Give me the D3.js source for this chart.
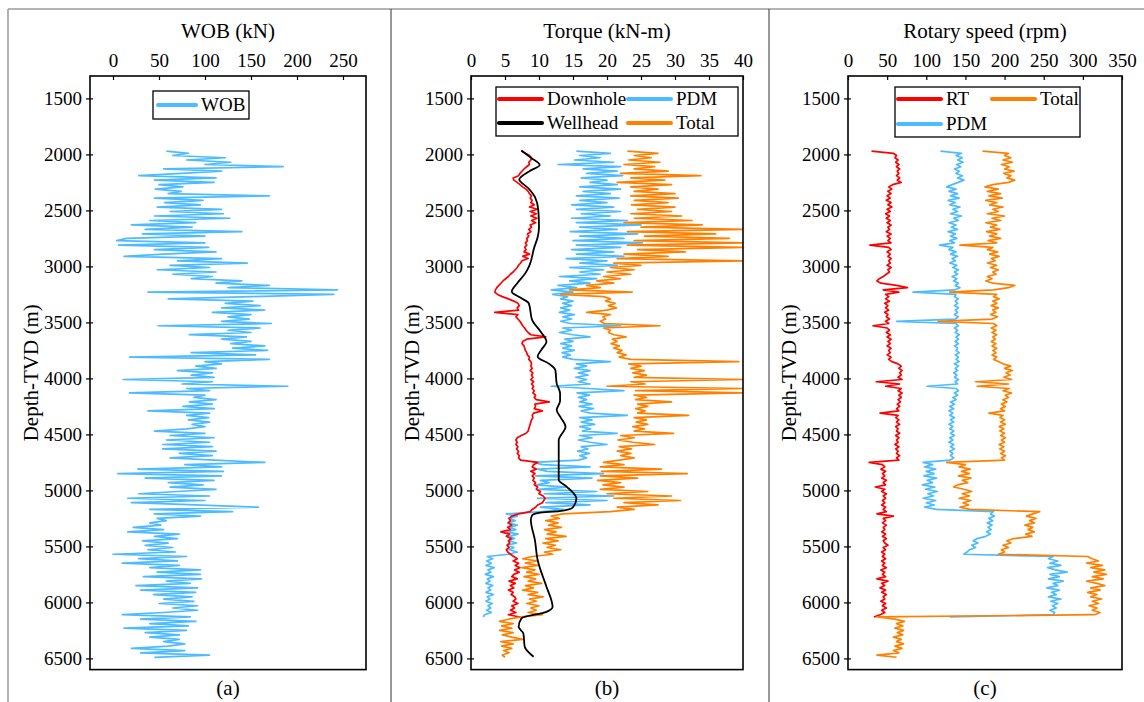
<!DOCTYPE html>
<html>
<head>
<meta charset="utf-8">
<script src="https://cdn.jsdelivr.net/npm/d3@7"></script>
<style>
  body { margin: 0; background: #fff; }
  svg text { font-family: "Liberation Serif", "Times New Roman", serif; fill: #000; }
</style>
</head>
<body>
<div id="chart"></div>
<script>
// sample depths (m, TVD), every 20 m from 1970 to 6490
const depth = d3.range(1970, 6491, 20);

// (a) weight on bit, kN — one row per 100 m
const wob = [
  58, 82, 65, 122, 80,      // 1970
  128, 100, 185, 55, 118,   // 2070
  75, 28, 112, 45, 110,     // 2170
  50, 76, 46, 74, 60,       // 2270
  170, 45, 98, 56, 95,      // 2370
  48, 118, 62, 120, 45,     // 2470
  127, 40, 90, 20, 86,      // 2570
  35, 140, 32, 100, 15,     // 2670
  4, 100, 6, 104, 45,       // 2770
  112, 55, 12, 118, 70,     // 2870
  146, 62, 105, 48, 112,    // 2970
  65, 108, 85, 140, 112,    // 3070
  170, 125, 244, 38, 240,   // 3170
  150, 60, 152, 122, 160,   // 3270
  118, 165, 108, 150, 125,  // 3370
  148, 118, 172, 49, 160,   // 3470
  125, 150, 83, 145, 118,   // 3570
  150, 128, 165, 130, 168,  // 3670
  85, 155, 18, 170, 100,    // 3770
  118, 90, 112, 70, 108,    // 3870
  85, 110, 11, 108, 75,     // 3970
  190, 80, 105, 18, 100,    // 4070
  88, 112, 83, 108, 76,     // 4170
  110, 38, 105, 80, 104,    // 4270
  82, 105, 86, 100, 80,     // 4370
  45, 100, 62, 110, 58,     // 4470
  105, 54, 108, 54, 112,    // 4570
  72, 108, 62, 110, 165,    // 4670
  78, 118, 27, 120, 5,      // 4770
  118, 35, 110, 60, 98,     // 4870
  62, 112, 70, 28, 105,     // 4970
  16, 100, 20, 90, 158,     // 5070
  40, 130, 45, 95, 48,      // 5170
  58, 40, 52, 22, 55,       // 5270
  16, 72, 45, 70, 32,       // 5370
  60, 35, 65, 38, 68,       // 5470
  0, 80, 28, 70, 10,        // 5570
  72, 40, 95, 48, 95,       // 5670
  33, 96, 58, 84, 25,       // 5770
  92, 30, 90, 44, 86,       // 5870
  55, 88, 50, 92, 65,       // 5970
  92, 55, 10, 84, 30,       // 6070
  90, 40, 82, 12, 80,       // 6170
  35, 72, 40, 72, 55,       // 6270
  78, 60, 20, 78, 30,       // 6370
  105, 45                   // 6470
];

// (b) torque, kN-m
const torqueDownhole = [
  7.4, 8.0, 8.6, 8.9, 8.8,    // 1970
  8.5, 8.6, 8.2, 7.8, 7.5,    // 2070
  7.2, 7.0, 6.2, 6.3, 6.8,    // 2170
  7.2, 7.6, 8.1, 8.4, 8.6,    // 2270
  8.9, 8.7, 9.0, 8.8, 9.3,    // 2370
  8.6, 9.8, 8.7, 9.6, 8.8,    // 2470
  9.7, 8.9, 9.5, 8.7, 8.9,    // 2570
  8.5, 8.8, 8.3, 8.5, 8.2,    // 2670
  8.3, 8.0, 8.2, 7.9, 8.1,    // 2770
  7.8, 8.6, 7.6, 8.4, 7.5,    // 2870
  7.3, 7.0, 6.8, 6.5, 6.2,    // 2970
  5.8, 5.5, 5.1, 4.7, 4.4,    // 3070
  4.1, 3.8, 3.6, 3.5, 3.9,    // 3170
  4.6, 5.5, 6.3, 6.9, 7.1,    // 3270
  6.8, 7.0, 3.5, 6.9, 6.6,    // 3370
  6.9, 7.2, 7.4, 7.6, 7.9,    // 3470
  8.1, 8.4, 8.8, 11.0, 8.2,   // 3570
  7.6, 7.5, 7.8, 7.9, 8.0,    // 3670
  8.2, 8.3, 8.6, 8.5, 8.8,    // 3770
  8.9, 8.8, 9.0, 8.7, 9.1,    // 3870
  8.9, 9.1, 8.8, 9.2, 8.9,    // 3970
  9.2, 9.0, 9.3, 9.1, 9.5,    // 4070
  9.3, 9.6, 11.5, 9.4, 9.5,   // 4170
  9.3, 10.5, 9.2, 9.0, 9.1,   // 4270
  8.9, 8.8, 8.7, 8.6, 8.5,    // 4370
  8.4, 8.1, 7.4, 6.8, 6.6,    // 4470
  6.8, 6.6, 6.9, 6.7, 7.0,    // 4570
  6.8, 7.1, 7.0, 7.3, 9.8,    // 4670
  9.2, 9.0, 9.6, 8.8, 9.4,    // 4770
  9.0, 9.3, 9.1, 9.5, 9.3,    // 4870
  9.8, 9.6, 10.2, 10.0, 10.6, // 4970
  10.9, 10.7, 10.5, 9.8, 9.5, // 5070
  9.0, 8.7, 7.0, 6.0, 5.6,    // 5170
  5.8, 5.5, 6.0, 5.4, 5.8,    // 5270
  4.4, 5.7, 5.2, 5.9, 5.5,    // 5370
  5.7, 5.3, 5.6, 5.2, 5.4,    // 5470
  5.8, 6.3, 6.8, 6.2, 7.0,    // 5570
  6.5, 7.2, 6.4, 7.1, 6.3,    // 5670
  6.0, 6.8, 5.6, 6.5, 5.8,    // 5770
  6.3, 5.5, 6.2, 5.9, 6.4,    // 5870
  6.6, 6.2, 6.9, 6.0, 6.4,    // 5970
  5.8, 6.6, 5.5, 7.2          // 6070
];

const torquePdm = [
  15.5, 20.5, 16.0, 19.0, 15.2,  // 1970
  21.0, 12.8, 22.0, 16.5, 21.5,  // 2070
  17.0, 22.3, 16.2, 20.0, 17.5,  // 2170
  21.5, 16.0, 22.0, 16.5, 20.5,  // 2270
  15.5, 21.8, 16.0, 20.0, 14.8,  // 2370
  21.0, 15.5, 22.0, 16.2, 20.5,  // 2470
  14.8, 23.0, 15.5, 25.0, 16.0,  // 2570
  21.5, 14.6, 24.5, 16.0, 22.5,  // 2670
  15.0, 25.2, 15.5, 22.0, 14.8,  // 2770
  21.0, 15.5, 22.5, 14.0, 20.0,  // 2870
  16.0, 21.5, 14.5, 19.5, 16.0,  // 2970
  19.0, 13.0, 18.5, 14.5, 17.5,  // 3070
  12.8, 15.5, 11.8, 15.0, 12.0,  // 3170
  14.2, 13.2, 15.0, 13.5, 14.8,  // 3270
  13.2, 14.5, 13.0, 15.2, 13.5,  // 3370
  14.8, 13.2, 14.6, 22.0, 13.5,  // 3470
  14.8, 13.0, 15.0, 17.5, 13.8,  // 3570
  15.0, 13.2, 14.8, 13.5, 15.2,  // 3670
  13.4, 14.6, 13.5, 15.0, 20.5,  // 3770
  15.5, 17.0, 15.2, 17.5, 15.8,  // 3870
  17.2, 15.4, 17.0, 15.8, 17.5,  // 3970
  11.8, 17.2, 22.5, 15.6, 17.4,  // 4070
  15.8, 17.0, 16.0, 17.8, 15.9,  // 4170
  18.0, 16.2, 17.5, 23.0, 16.0,  // 4270
  17.8, 16.2, 18.2, 16.0, 17.6,  // 4370
  16.4, 21.5, 16.0, 17.8, 15.8,  // 4470
  17.5, 20.0, 16.2, 17.2, 15.7,  // 4570
  17.4, 16.0, 17.0, 15.8, 9.2,   // 4670
  10.5, 17.5, 9.8, 11.2, 19.5,   // 4770
  9.5, 17.8, 10.2, 11.5, 9.6,    // 4870
  14.0, 10.0, 18.5, 10.8, 21.0,  // 4970
  9.8, 20.0, 11.0, 17.5, 10.2,   // 5070
  13.5, 10.5, 5.2, 6.8, 5.5,     // 5170
  6.5, 5.4, 6.8, 5.6, 6.6,       // 5270
  5.3, 6.9, 5.6, 6.4, 5.5,       // 5370
  6.7, 5.4, 6.3, 5.6, 6.8,       // 5470
  5.5, 2.4, 3.2, 2.3, 3.0,       // 5570
  2.2, 3.4, 2.5, 2.9, 2.1,       // 5670
  3.3, 2.4, 2.8, 2.2, 3.2,       // 5770
  2.5, 2.9, 2.2, 3.3, 2.4,       // 5870
  2.8, 2.2, 3.1, 2.5, 2.9,       // 5970
  2.3, 3.0, 2.0, 1.8             // 6070
];

const torqueTotal = [
  23.0, 27.5, 24.0, 26.5, 23.2,  // 1970
  27.8, 22.5, 27.0, 24.0, 29.0,  // 2070
  22.0, 33.8, 23.5, 28.5, 21.5,  // 2170
  29.5, 23.5, 27.5, 24.0, 30.0,  // 2270
  23.5, 30.5, 24.0, 29.0, 23.6,  // 2370
  30.0, 24.5, 29.5, 23.5, 31.0,  // 2470
  24.0, 32.5, 22.5, 34.0, 25.0,  // 2570
  40.0, 23.0, 36.0, 25.5, 38.0,  // 2670
  24.0, 40.0, 23.0, 40.0, 24.5,  // 2770
  31.5, 22.5, 29.0, 21.5, 40.0,  // 2870
  21.0, 25.0, 20.5, 24.0, 20.0,  // 2970
  23.5, 19.5, 22.0, 18.5, 21.0,  // 3070
  17.0, 19.0, 14.5, 23.7, 13.2,  // 3170
  19.5, 20.5, 19.8, 21.2, 20.2,  // 3270
  21.4, 20.0, 17.0, 20.5, 19.4,  // 3370
  19.8, 19.0, 19.6, 27.8, 19.5,  // 3470
  20.5, 20.2, 21.0, 22.8, 20.8,  // 3570
  21.5, 20.6, 21.8, 21.0, 22.2,  // 3670
  21.5, 22.8, 21.8, 23.5, 39.4,  // 3770
  23.2, 25.0, 23.5, 25.5, 23.8,  // 3870
  25.8, 24.0, 40.0, 23.5, 25.6,  // 3970
  20.0, 40.0, 24.2, 40.0, 24.0,  // 4070
  25.8, 24.2, 29.5, 24.5, 26.0,  // 4170
  24.2, 25.6, 24.5, 32.0, 24.0,  // 4270
  25.8, 24.3, 26.0, 23.8, 25.5,  // 4370
  24.0, 29.8, 22.0, 24.0, 21.6,  // 4470
  23.8, 27.0, 21.8, 23.6, 21.5,  // 4570
  23.5, 22.0, 24.0, 21.8, 19.5,  // 4670
  22.5, 19.0, 28.0, 19.2, 31.8,  // 4770
  19.0, 24.5, 18.6, 22.0, 19.4,  // 4870
  22.5, 19.0, 26.0, 20.0, 29.5,  // 4970
  21.0, 30.8, 22.5, 27.5, 21.5,  // 5070
  24.0, 20.5, 13.5, 11.8, 13.0,  // 5170
  11.0, 12.8, 11.4, 13.3, 10.8,  // 5270
  12.5, 11.2, 14.0, 11.0, 12.8,  // 5370
  10.6, 12.4, 11.2, 13.2, 10.8,  // 5470
  12.0, 9.0, 7.6, 9.6, 8.0,      // 5570
  9.8, 7.5, 9.4, 8.2, 10.0,      // 5670
  7.8, 9.5, 8.4, 10.4, 8.0,      // 5770
  9.2, 7.6, 9.8, 8.4, 10.6,      // 5870
  8.6, 9.6, 8.2, 10.0, 8.8,      // 5970
  9.6, 8.4, 10.5, 7.4, 5.5,      // 6070
  4.2, 6.2, 4.5, 6.0, 4.2,       // 6170
  6.2, 4.6, 6.0, 7.6, 4.4,       // 6270
  6.2, 4.5, 6.0, 4.8, 5.6,       // 6370
  4.6, 5.0                       // 6470
];

// wellhead torque is a smooth curve, read at its turning points
const wellheadDepth = [1965, 2030, 2095, 2150, 2225, 2300, 2380, 2500, 2650, 2740, 2830, 2990, 3060, 3150,
  3226, 3280, 3330, 3480, 3580, 3673, 3740, 3806, 3870, 3925, 4044, 4133, 4200, 4283, 4350, 4432, 4551,
  4729, 4908, 4968, 5072, 5150, 5185, 5200, 5221, 5265, 5444, 5622, 5860, 6000, 6039, 6084, 6143, 6218,
  6277, 6396, 6485];
const wellheadTorque = [7.4, 8.8, 10.1, 8.6, 7.1, 8.4, 9.4, 9.9, 10.0, 9.8, 9.3, 8.6, 8.0, 6.8,
  6.0, 7.3, 8.5, 9.0, 10.2, 11.1, 10.4, 9.8, 11.5, 12.4, 12.6, 13.1, 13.1, 12.6, 13.2, 13.9, 12.9,
  12.9, 12.9, 14.1, 15.5, 15.0, 13.0, 10.0, 9.0, 8.8, 9.4, 9.8, 11.1, 11.9, 12.0, 11.1, 7.4, 7.0,
  7.7, 7.9, 9.2];

// (c) rotary speed, rpm
const rpmRt = [
  30, 58, 62, 60, 64,    // 1970
  61, 65, 62, 66, 63,    // 2070
  65, 62, 66, 63, 68,    // 2170
  57, 52, 56, 51, 55,    // 2270
  50, 54, 49, 55, 51,    // 2370
  56, 50, 54, 48, 53,    // 2470
  49, 54, 50, 55, 51,    // 2570
  53, 49, 55, 50, 54,    // 2670
  51, 55, 28, 52, 55,    // 2770
  50, 54, 51, 55, 52,    // 2870
  54, 50, 55, 51, 53,    // 2970
  49, 45, 40, 37, 42,    // 3070
  62, 76, 45, 65, 48,    // 3170
  52, 48, 53, 47, 51,    // 3270
  48, 52, 47, 51, 49,    // 3370
  53, 48, 52, 32, 50,    // 3470
  53, 49, 54, 50, 55,    // 3570
  51, 54, 50, 55, 52,    // 3670
  54, 50, 55, 52, 56,    // 3770
  64, 68, 65, 69, 66,    // 3870
  68, 64, 69, 36, 66,    // 3970
  48, 68, 64, 69, 65,    // 4070
  68, 64, 67, 63, 66,    // 4170
  62, 65, 41, 64, 61,    // 4270
  65, 62, 66, 61, 64,    // 4370
  62, 66, 61, 65, 62,    // 4470
  64, 60, 65, 61, 64,    // 4570
  62, 66, 62, 65, 27,    // 4670
  44, 47, 42, 48, 44,    // 4770
  47, 43, 49, 45, 48,    // 4870
  35, 47, 43, 49, 45,    // 4970
  48, 44, 47, 43, 48,    // 5070
  45, 49, 37, 58, 45,    // 5170
  48, 44, 49, 45, 47,    // 5270
  43, 48, 44, 49, 45,    // 5370
  47, 51, 45, 48, 43,    // 5470
  47, 44, 48, 43, 47,    // 5570
  44, 49, 42, 47, 44,    // 5670
  48, 37, 51, 43, 47,    // 5770
  41, 48, 43, 49, 45,    // 5870
  47, 42, 48, 44, 49,    // 5970
  43, 47, 41, 33         // 6070
];

const rpmPdm = [
  118, 145, 138, 146, 140,  // 1970
  147, 139, 144, 136, 142,  // 2070
  138, 146, 140, 148, 141,  // 2170
  133, 126, 138, 129, 140,  // 2270
  131, 142, 128, 137, 130,  // 2370
  143, 134, 140, 131, 145,  // 2470
  135, 141, 129, 138, 132,  // 2570
  140, 128, 137, 131, 139,  // 2670
  130, 136, 117, 134, 129,  // 2770
  138, 131, 140, 133, 137,  // 2870
  130, 139, 134, 141, 136,  // 2970
  140, 133, 139, 135, 141,  // 3070
  137, 143, 136, 83, 138,   // 3170
  136, 141, 137, 140, 136,  // 3270
  141, 137, 140, 136, 141,  // 3370
  137, 62, 138, 141, 136,   // 3470
  140, 137, 142, 138, 141,  // 3570
  137, 141, 136, 140, 138,  // 3670
  142, 137, 141, 138, 142,  // 3770
  136, 141, 137, 140, 135,  // 3870
  139, 136, 141, 137, 140,  // 3970
  101, 138, 141, 136, 140,  // 4070
  134, 138, 131, 136, 130,  // 4170
  135, 129, 134, 130, 136,  // 4270
  131, 135, 129, 134, 130,  // 4370
  135, 131, 136, 130, 134,  // 4470
  129, 135, 131, 136, 130,  // 4570
  134, 131, 135, 130, 96,   // 4670
  108, 98, 112, 100, 110,   // 4770
  97, 113, 101, 108, 95,    // 4870
  111, 99, 114, 102, 109,   // 4970
  96, 112, 100, 110, 98,    // 5070
  113, 186, 182, 187, 180,  // 5170
  185, 178, 184, 179, 183,  // 5270
  177, 182, 176, 165, 160,  // 5370
  166, 158, 163, 155, 152,  // 5470
  148, 262, 256, 268, 258,  // 5570
  272, 255, 265, 280, 258,  // 5670
  270, 256, 275, 262, 268,  // 5770
  254, 270, 260, 266, 256,  // 5870
  272, 259, 268, 261, 266,  // 5970
  258, 264, 262, 130        // 6070
];

const rpmTotal = [
  172, 205, 200, 208, 198,  // 1970
  210, 196, 206, 200, 212,  // 2070
  199, 208, 203, 213, 205,  // 2170
  185, 175, 192, 178, 195,  // 2270
  180, 197, 176, 190, 181,  // 2370
  198, 185, 192, 178, 200,  // 2470
  184, 195, 176, 190, 182,  // 2570
  194, 177, 190, 181, 195,  // 2670
  179, 190, 143, 185, 178,  // 2770
  191, 181, 193, 183, 188,  // 2870
  178, 190, 182, 192, 185,  // 2970
  189, 178, 184, 176, 185,  // 3070
  213, 205, 186, 130, 190,  // 3170
  186, 193, 185, 190, 183,  // 3270
  192, 185, 189, 182, 191,  // 3370
  184, 115, 186, 190, 183,  // 3470
  189, 184, 190, 185, 188,  // 3570
  183, 189, 184, 190, 185,  // 3670
  189, 184, 190, 186, 192,  // 3770
  198, 208, 200, 210, 202,  // 3870
  207, 199, 209, 163, 205,  // 3970
  165, 206, 198, 209, 201,  // 4070
  205, 198, 203, 196, 201,  // 4170
  195, 200, 180, 198, 194,  // 4270
  200, 195, 201, 193, 199,  // 4370
  194, 200, 195, 201, 196,  // 4470
  200, 193, 199, 194, 200,  // 4570
  195, 201, 196, 200, 126,  // 4670
  150, 142, 156, 145, 155,  // 4770
  141, 157, 146, 153, 140,  // 4870
  135, 148, 158, 146, 155,  // 4970
  142, 157, 147, 154, 143,  // 5070
  156, 245, 236, 228, 240,  // 5170
  232, 238, 226, 236, 230,  // 5270
  238, 227, 235, 212, 203,  // 5370
  208, 198, 205, 196, 200,  // 5470
  192, 306, 312, 320, 305,  // 5570
  325, 310, 328, 314, 330,  // 5670
  312, 326, 305, 318, 328,  // 5770
  310, 322, 306, 318, 310,  // 5870
  324, 312, 320, 308, 318,  // 5970
  312, 322, 315, 37, 60,    // 6070
  72, 62, 70, 60, 71,       // 6170
  63, 70, 58, 68, 62,       // 6270
  71, 60, 69, 58, 65,       // 6370
  37, 62                    // 6470
];

const depthTicks = [1500, 2000, 2500, 3000, 3500, 4000, 4500, 5000, 5500, 6000, 6500];

const width = 1144;
const height = 702;
const plotTop = 76, plotBottom = 669.6;
const serif = '"Liberation Serif", "Times New Roman", serif';

const colors = { red: "#ff0000", blue: "#4dbbff", orange: "#ff8000", black: "#000000" };

const svg = d3.select("#chart")
    .append("svg")
    .attr("width", width)
    .attr("height", height)
    .style("font-family", serif);

// outer frame and the two separators
svg.append("line").attr("x1", 8).attr("x2", width).attr("y1", 9).attr("y2", 9)
    .attr("stroke", "#9a9a9a").attr("stroke-width", 1.5);
svg.append("line").attr("x1", 8).attr("x2", 8).attr("y1", 9).attr("y2", height)
    .attr("stroke", "#9a9a9a").attr("stroke-width", 1.5);
[391, 769].forEach(xx => {
    svg.append("line").attr("x1", xx).attr("x2", xx).attr("y1", 9).attr("y2", height)
        .attr("stroke", "#333").attr("stroke-width", 1);
});

const y = d3.scaleLinear().domain([1300, 6600]).range([plotTop, plotBottom]);

const panels = [
    { id: "a", left: 90, right: 366, domain: [-25, 275], ticks: d3.range(0, 251, 50), title: "WOB (kN)" },
    { id: "b", left: 471, right: 743, domain: [0, 40], ticks: d3.range(0, 41, 5), title: "Torque (kN-m)" },
    { id: "c", left: 848, right: 1122, domain: [0, 350], ticks: d3.range(0, 351, 50), title: "Rotary speed (rpm)" }
];

function drawPanel(p) {
    const x = d3.scaleLinear().domain(p.domain).range([p.left, p.right]);
    const g = svg.append("g");
    const cx = (p.left + p.right) / 2;

    svg.append("clipPath").attr("id", "clip-" + p.id)
        .append("rect")
        .attr("x", p.left).attr("y", plotTop)
        .attr("width", p.right - p.left).attr("height", plotBottom - plotTop);

    // top axis, ticks pointing in
    const xAxis = g.append("g")
        .attr("transform", `translate(0,${plotTop})`)
        .call(d3.axisTop(x).tickValues(p.ticks).tickSize(-4).tickPadding(9));
    xAxis.attr("font-family", null).attr("font-size", null);
    xAxis.select(".domain").remove();
    xAxis.selectAll("text").style("font-size", "19px").style("font-family", serif);
    xAxis.selectAll("line").attr("stroke-width", 1.2);

    const yAxis = g.append("g")
        .attr("transform", `translate(${p.left},0)`)
        .call(d3.axisLeft(y).tickValues(depthTicks).tickSize(4).tickPadding(4).tickFormat(d3.format("d")));
    yAxis.attr("font-family", null).attr("font-size", null);
    yAxis.select(".domain").remove();
    yAxis.selectAll("text").style("font-size", "19px").style("font-family", serif);
    yAxis.selectAll("line").attr("stroke-width", 1.2).attr("x2", 3).attr("x1", -4);

    g.append("text")
        .attr("x", cx).attr("y", 38)
        .attr("text-anchor", "middle")
        .style("font-size", "21px")
        .text(p.title);

    g.append("text")
        .attr("transform", `translate(${p.left - 52},${(plotTop + plotBottom) / 2}) rotate(-90)`)
        .attr("text-anchor", "middle")
        .style("font-size", "21px")
        .text("Depth-TVD (m)");

    g.append("text")
        .attr("x", cx).attr("y", 695)
        .attr("text-anchor", "middle")
        .style("font-size", "21px")
        .text(`(${p.id})`);

    const plot = g.append("g").attr("clip-path", `url(#clip-${p.id})`);
    return { x, g, plot };
}

function trace(plot, x, values, color) {
    const line = d3.line()
        .defined(d => d[1] != null)
        .x(d => x(d[1]))
        .y(d => y(d[0]));
    plot.append("path")
        .datum(depth.map((dd, i) => [dd, values[i]]))
        .attr("fill", "none")
        .attr("stroke", color)
        .attr("stroke-width", 1.7)
        .attr("stroke-linejoin", "round")
        .attr("d", line);
}

function frame(p) {
    svg.append("rect")
        .attr("x", p.left).attr("y", plotTop)
        .attr("width", p.right - p.left).attr("height", plotBottom - plotTop)
        .attr("fill", "none").attr("stroke", "#000").attr("stroke-width", 1.6);
}

function legend(box, items) {
    const lg = svg.append("g");
    lg.append("rect")
        .attr("x", box[0]).attr("y", box[1]).attr("width", box[2]).attr("height", box[3])
        .attr("fill", "#fff").attr("stroke", "#000").attr("stroke-width", 1.3);
    items.forEach(it => {
        lg.append("line")
            .attr("x1", it.x).attr("x2", it.x + it.len).attr("y1", it.y).attr("y2", it.y)
            .attr("stroke", it.color).attr("stroke-width", 4).attr("stroke-linecap", "round");
        lg.append("text")
            .attr("x", it.x + it.len + 5).attr("y", it.y + 6)
            .style("font-size", "19px")
            .text(it.label);
    });
}

// (a) WOB
const pa = drawPanel(panels[0]);
trace(pa.plot, pa.x, wob, colors.blue);
frame(panels[0]);
legend([153, 91, 96, 28], [{ x: 158, y: 105, len: 38, color: colors.blue, label: "WOB" }]);

// (b) torque
const pb = drawPanel(panels[1]);
trace(pb.plot, pb.x, torquePdm, colors.blue);
trace(pb.plot, pb.x, torqueDownhole, colors.red);
trace(pb.plot, pb.x, torqueTotal, colors.orange);
pb.plot.append("path")
    .datum(wellheadDepth.map((dd, i) => [dd, wellheadTorque[i]]))
    .attr("fill", "none")
    .attr("stroke", colors.black)
    .attr("stroke-width", 1.8)
    .attr("d", d3.line().curve(d3.curveMonotoneY).x(d => pb.x(d[1])).y(d => y(d[0])));
frame(panels[1]);
legend([496, 87, 242, 49], [
    { x: 499, y: 99, len: 43, color: colors.red, label: "Downhole" },
    { x: 628, y: 99, len: 43, color: colors.blue, label: "PDM" },
    { x: 499, y: 123, len: 43, color: colors.black, label: "Wellhead" },
    { x: 628, y: 123, len: 43, color: colors.orange, label: "Total" }
]);

// (c) rotary speed
const pc = drawPanel(panels[2]);
trace(pc.plot, pc.x, rpmRt, colors.red);
trace(pc.plot, pc.x, rpmPdm, colors.blue);
trace(pc.plot, pc.x, rpmTotal, colors.orange);
frame(panels[2]);
legend([895, 87, 185, 50], [
    { x: 898, y: 99, len: 43, color: colors.red, label: "RT" },
    { x: 992, y: 99, len: 43, color: colors.orange, label: "Total" },
    { x: 898, y: 124, len: 43, color: colors.blue, label: "PDM" }
]);
</script>
</body>
</html>
